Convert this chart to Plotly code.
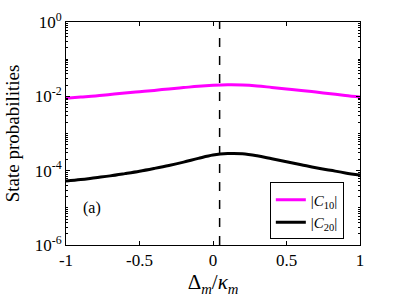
import plotly.graph_objects as go

delta = [-1.0, -0.9, -0.8, -0.7, -0.6, -0.5, -0.4, -0.3, -0.2, -0.1, 0.0,
         0.1, 0.2, 0.3, 0.4, 0.5, 0.6, 0.7, 0.8, 0.9, 1.0]
c10 = [0.00891, 0.00955, 0.01023, 0.01122, 0.01230, 0.01334, 0.01445, 0.01585,
       0.01718, 0.01862, 0.01972, 0.02042, 0.02018, 0.01905, 0.01738, 0.01585,
       0.01445, 0.01303, 0.01175, 0.01059, 0.00966]
c20 = [5.25e-5, 5.75e-5, 6.46e-5, 7.24e-5, 8.32e-5, 9.66e-5, 1.148e-4, 1.380e-4,
       1.698e-4, 2.138e-4, 2.630e-4, 2.884e-4, 2.851e-4, 2.512e-4, 2.089e-4,
       1.738e-4, 1.445e-4, 1.202e-4, 1.023e-4, 8.71e-5, 7.59e-5]
dashed_x = 0.045
xticks = [-1, -0.5, 0, 0.5, 1]
xticklabels = ["-1", "-0.5", "0", "0.5", "1"]
yticks = [1e-6, 1e-4, 1e-2, 1e0]
yticklabels = ["10<sup>-6</sup>", "10<sup>-4</sup>", "10<sup>-2</sup>", "10<sup>0</sup>"]
minor_vals = [m * 10.0 ** e for e in range(-6, 0) for m in range(2, 10)] + [10.0 ** e for e in (-5, -3, -1)]

FONT = "Liberation Serif"

fig = go.Figure()
fig.add_trace(go.Scatter(x=delta, y=c10, mode="lines", name="|<i>C</i><sub>10</sub>|",
                         line=dict(color="#ff00ff", width=3, shape="spline")))
fig.add_trace(go.Scatter(x=delta, y=c20, mode="lines", name="|<i>C</i><sub>20</sub>|",
                         line=dict(color="black", width=3, shape="spline")))
# invisible traces on overlay axes for minor ticks (left and right)
fig.add_trace(go.Scatter(x=[None], y=[None], yaxis="y2", showlegend=False, hoverinfo="skip"))
fig.add_trace(go.Scatter(x=[None], y=[None], yaxis="y3", showlegend=False, hoverinfo="skip"))

fig.add_shape(type="line", x0=dashed_x, x1=dashed_x, y0=0, y1=1, xref="x", yref="paper",
              line=dict(color="black", width=1.5, dash="dash"))

fig.add_annotation(x=0.051, y=0.116, xref="paper", yref="paper", text="(a)", showarrow=False,
                   font=dict(family=FONT, size=16, color="black"))

minor_axis = dict(type="log", range=[-6, 0], overlaying="y", tickvals=minor_vals,
                  showticklabels=False, ticks="inside", ticklen=2, tickcolor="black",
                  showgrid=False, zeroline=False, showline=False, automargin=False)

fig.update_layout(
    width=399, height=299,
    margin=dict(l=66, r=39, t=22, b=54),
    paper_bgcolor="white", plot_bgcolor="white",
    font=dict(family=FONT, size=17, color="black"),
    xaxis=dict(range=[-1, 1], tickvals=xticks, ticktext=xticklabels, ticks="inside",
               ticklen=4, tickcolor="black", showline=True, linecolor="black", linewidth=1,
               mirror="ticks", showgrid=False, zeroline=False, automargin=False,
               tickfont=dict(size=17),
               title=dict(text="Δ<sub><i>m</i></sub>/<i>κ</i><sub><i>m</i></sub>", font=dict(size=21), standoff=0)),
    yaxis=dict(type="log", range=[-6, 0], tickvals=yticks, ticktext=yticklabels, ticks="inside",
               ticklen=4, tickcolor="black", showline=True, linecolor="black", linewidth=1,
               mirror="ticks", showgrid=False, zeroline=False, automargin=False,
               tickfont=dict(size=17),
               title=dict(text="State probabilities", font=dict(size=19), standoff=10)),
    yaxis2=dict(minor_axis, side="left"),
    yaxis3=dict(minor_axis, side="right"),
    legend=dict(x=0.945, y=0.025, xanchor="right", yanchor="bottom", bgcolor="white",
                bordercolor="black", borderwidth=1, font=dict(family=FONT, size=15),
                tracegroupgap=0, itemwidth=30),
    showlegend=True,
)

fig.write_html("out.html", config={"displayModeBar": False},
               post_script="document.body.style.margin='0px';")
